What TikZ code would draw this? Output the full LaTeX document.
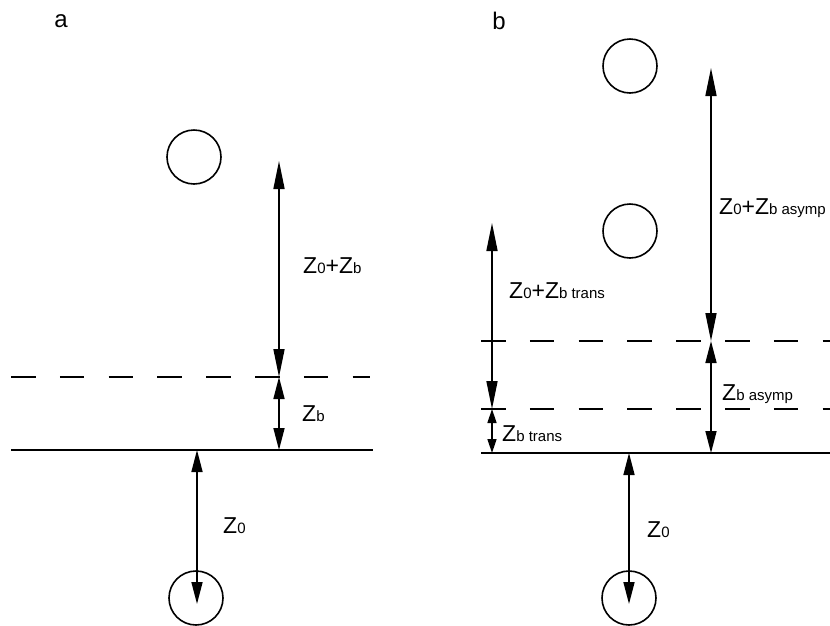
\documentclass[tikz,border=0pt]{standalone}
\usepackage{fontspec}
\setmainfont{Liberation Sans}
\usetikzlibrary{arrows.meta}
\newcommand{\lowtxt}[1]{{\fontsize{15pt}{15pt}\selectfont #1}}
\tikzset{
  lbl/.style={anchor=base west, inner sep=0pt, font=\fontsize{23pt}{23pt}\selectfont},
  panel/.style={anchor=center, inner sep=0pt, font=\fontsize{24pt}{24pt}\selectfont},
  atom/.style={circle, draw, line width=1.6pt, minimum size=54pt, inner sep=0pt},
  dimL/.style={line width=1.6pt, {Triangle[length=28pt,width=11pt]}-{Triangle[length=28pt,width=11pt]}},
  dimM/.style={line width=1.6pt, {Triangle[length=22pt,width=11pt]}-{Triangle[length=22pt,width=11pt]}},
  dimS/.style={line width=1.6pt, {Triangle[length=14pt,width=9pt]}-{Triangle[length=14pt,width=9pt]}},
  level/.style={line width=1.6pt},
  dlevel/.style={line width=1.6pt, dash pattern=on 24.5pt off 24.3pt},
}
\begin{document}
\begin{tikzpicture}[x=1pt,y=-1pt]
\useasboundingbox (0,0) rectangle (830,625);
% ---------- panel a ----------
\node[panel] (la) at (61,21) {a};
\node[atom] (ca1) at (194,157) {};
\node[atom] (ca0) at (196,598) {};
\coordinate (aDl) at (11,377);  \coordinate (aDr) at (370,377);
\coordinate (aSl) at (11,450);  \coordinate (aSr) at (373,450);
\draw[dlevel] (aDl) -- (aDr);
\draw[level] (aSl) -- (aSr);
\coordinate (a1t) at (279,161);
\coordinate (a1b) at (279,377);
\coordinate (a2b) at (279,450);
\coordinate (a3t) at (197,450);
\coordinate (a3b) at (197,604);
\draw[dimL] (a1t) -- (a1b);
\draw[dimM] (a1b) -- (a2b);
\draw[dimM] (a3t) -- (a3b);
\node[lbl] (tA1) at (303,273) {Z\lowtxt{0}+Z\lowtxt{b}};
\node[lbl] (tA2) at (302,421) {Z\lowtxt{b}};
\node[lbl] (tA3) at (223,533) {Z\lowtxt{0}};
% ---------- panel b ----------
\node[panel] (lb) at (499,21) {b};
\node[atom] (cb1) at (630,66) {};
\node[atom] (cb2) at (630,231) {};
\node[atom] (cb0) at (629,598) {};
\coordinate (bD1l) at (481,341); \coordinate (bD1r) at (830,341);
\coordinate (bD2l) at (481,409); \coordinate (bD2r) at (830,409);
\coordinate (bSl) at (481,453);  \coordinate (bSr) at (830,453);
\draw[dlevel] (bD1l) -- (bD1r);
\draw[dlevel] (bD2l) -- (bD2r);
\draw[level] (bSl) -- (bSr);
\coordinate (b1t) at (711,68);
\coordinate (b1b) at (711,341);
\coordinate (b2b) at (711,453);
\coordinate (b3t) at (492,223);
\coordinate (b3b) at (492,409);
\coordinate (b4b) at (492,453);
\coordinate (b5t) at (629,453);
\coordinate (b5b) at (629,604);
\draw[dimL] (b1t) -- (b1b);
\draw[dimM] (b1b) -- (b2b);
\draw[dimL] (b3t) -- (b3b);
\draw[dimS] (b3b) -- (b4b);
\draw[dimM] (b5t) -- (b5b);
\node[lbl] (tB1) at (719,214) {Z\lowtxt{0}+Z\lowtxt{b asymp}};
\node[lbl] (tB2) at (509,298) {Z\lowtxt{0}+Z\lowtxt{b trans}};
\node[lbl] (tB3) at (722,400) {Z\lowtxt{b asymp}};
\node[lbl] (tB4) at (502,441) {Z\lowtxt{b trans}};
\node[lbl] (tB5) at (647,537) {Z\lowtxt{0}};
\end{tikzpicture}
\end{document}
